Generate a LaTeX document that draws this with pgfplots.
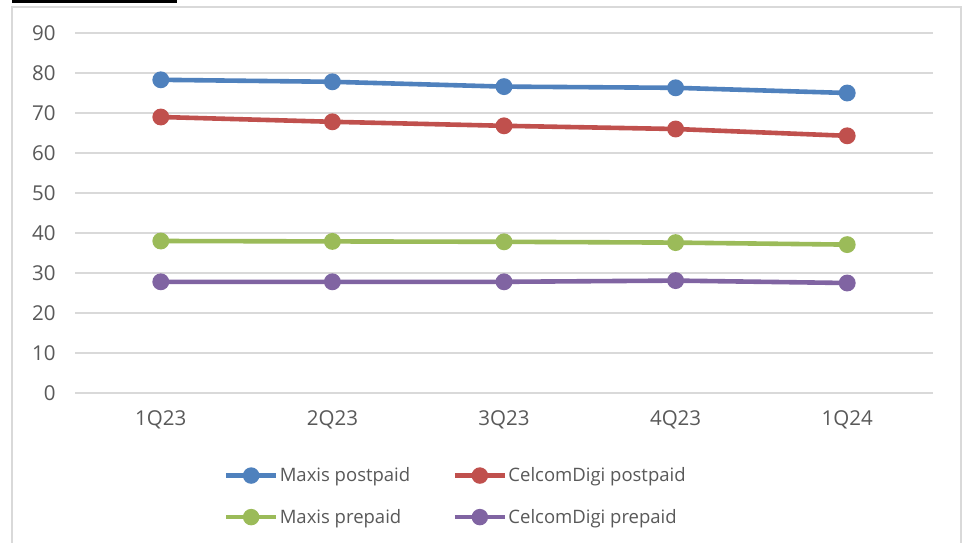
\documentclass[border=0pt]{standalone}
\usepackage{fontspec}
\setmainfont{Open Sans}
\usepackage{pgfplots}
\pgfplotsset{compat=1.18}

\definecolor{mxpost}{HTML}{4F81BD}
\definecolor{cdpost}{HTML}{C0504D}
\definecolor{mxpre}{HTML}{9BBB59}
\definecolor{cdpre}{HTML}{8064A2}
\definecolor{gridc}{HTML}{D9D9D9}
\definecolor{txt}{HTML}{595959}

\begin{document}
\begin{tikzpicture}[x=1bp,y=1bp]
\useasboundingbox (0,0) rectangle (965,-543);
\clip (0,0) rectangle (965,-543);
\fill[white] (0,0) rectangle (965,-543);
% chart frame
\draw[gridc, line width=2bp] (12,-600) -- (12,-7.5) -- (960.5,-7.5) -- (960.5,-600);
% heading rule above the frame
\fill[black] (12,0) rectangle (177,-3);
\begin{axis}[
  at={(75bp,-393bp)}, anchor=south west,
  scale only axis, width=858bp, height=360bp,
  xmin=-0.5, xmax=4.5, ymin=0, ymax=90,
  clip=false,
  axis line style={draw=none},
  xtick={0,1,2,3,4},
  xticklabels={1Q23,2Q23,3Q23,4Q23,1Q24},
  ytick={0,10,...,90},
  ymajorgrids, grid style={gridc, line width=1.6bp},
  major tick length=0pt,
  /pgf/number format/assume math mode=true,
  tick label style={font=\fontsize{20.5bp}{24bp}\selectfont, text=txt},
  yticklabel shift=16bp,
  xticklabel shift=14bp,
  every axis plot/.append style={line width=4.6bp, mark=*, mark size=6.1bp},
  legend columns=2,
  legend cell align=left,
  legend style={draw=none, fill=none, inner sep=0pt,
    at={(axis description cs:0.1735,-0.203)}, anchor=north west,
    font=\fontsize{18.5bp}{22bp}\selectfont, text=txt,
    nodes={inner sep=1.5bp},
    row sep=23bp,
    /tikz/every even column/.append style={column sep=41bp}},
  legend image code/.code={%
    \draw[mark repeat=2, mark phase=2, #1, line width=4.2bp]
      plot coordinates {(0bp,0bp) (25bp,0bp) (50bp,0bp)};},
]
\addplot[mxpost, mark options={draw=none, fill=mxpost}] coordinates {
  (0,78.3) (1,77.8) (2,76.6) (3,76.3) (4,75.0)};
\addlegendentry{Maxis postpaid}
\addplot[cdpost, mark options={draw=none, fill=cdpost}] coordinates {
  (0,69.0) (1,67.8) (2,66.8) (3,66.0) (4,64.3)};
\addlegendentry{CelcomDigi postpaid}
\addplot[mxpre, mark options={draw=none, fill=mxpre}] coordinates {
  (0,38.0) (1,37.9) (2,37.8) (3,37.6) (4,37.1)};
\addlegendentry{Maxis prepaid}
\addplot[cdpre, mark options={draw=none, fill=cdpre}] coordinates {
  (0,27.8) (1,27.8) (2,27.8) (3,28.1) (4,27.5)};
\addlegendentry{CelcomDigi prepaid}
\end{axis}
\end{tikzpicture}
\end{document}
